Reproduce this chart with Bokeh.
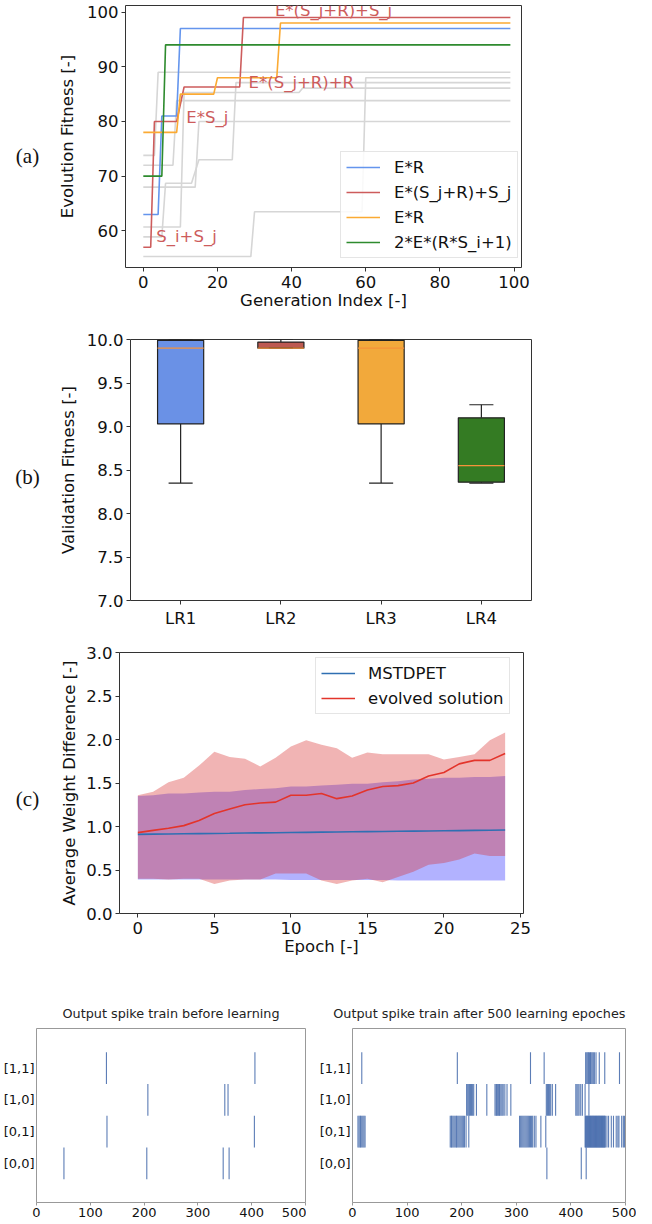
import numpy as np
from bokeh.plotting import figure
from bokeh.models import Range1d, FixedTicker, PrintfTickFormatter, Label, Legend, LegendItem
from bokeh.layouts import column, row
from bokeh.embed import file_html
from bokeh.resources import INLINE
from bokeh.core.properties import value

FONT = "DejaVu Sans"
FS = "16.5px"
SERIF = "Liberation Serif"

# ---------------- (a) evolution fitness ----------------
gen_blue = [0, 4, 5, 9, 10, 99]
fit_blue = [63, 63, 81, 81, 97, 97]
gen_red = [0, 2, 3, 9, 11, 26, 27, 99]
fit_red = [57, 57, 80, 80, 86.3, 86.3, 99, 99]
gen_orange = [0, 9, 10, 19, 20, 36, 37, 99]
fit_orange = [78, 78, 85, 85, 88, 88, 98, 98]
gen_green = [0, 5, 6, 99]
fit_green = [70, 70, 94, 94]

gray_gen_1 = [0, 3, 4, 99]
gray_fit_1 = [73.8, 73.8, 89, 89]
gray_gen_2 = [0, 8, 9, 99]
gray_fit_2 = [72, 72, 83.8, 83.8]
gray_gen_3 = [0, 14, 15, 99]
gray_fit_3 = [68, 68, 80, 80]
gray_gen_4 = [0, 29, 30, 59, 60, 99]
gray_fit_4 = [55.3, 55.3, 63.5, 63.5, 88, 88]
gray_gen_5 = [0, 10, 11, 42, 43, 99]
gray_fit_5 = [60.7, 60.7, 85.3, 85.3, 86.1, 86.1]
gray_gen_6 = [0, 5, 6, 13, 15, 24, 25, 99]
gray_fit_6 = [58.9, 58.9, 68.7, 68.7, 73, 73, 87.1, 87.1]

legend_a = ["E*R", "E*(S_j+R)+S_j", "E*R", "2*E*(R*S_i+1)"]
annot_text = ["E*(S_j+R)+S_j", "E*(S_j+R)+R", "E*S_j", "S_i+S_j"]
annot_gen = [35.5, 28.4, 11.6, 3.5]
annot_fit = [100.3, 87.1, 80.8, 58.9]

C_BLUE = "#6495ed"
C_RED = "#cd5c5c"
C_ORANGE = "#fbaa33"
C_GREEN = "#2e8b2e"
C_GRAY = "#d6d6d6"

# ---------------- (b) validation fitness ----------------
lr_labels = ["LR1", "LR2", "LR3", "LR4"]
lr_pos = [1, 2, 3, 4]
box_lo = [8.35, 9.90, 8.35, 8.35]
box_q1 = [9.03, 9.90, 9.03, 8.36]
box_med = [9.90, 9.90, 9.90, 8.55]
box_q3 = [9.99, 9.97, 9.99, 9.10]
box_hi = [10.0, 10.0, 10.0, 9.25]
box_colors = ["#6a91e6", "#bd5a52", "#f2a93b", "#347b23"]

# ---------------- (c) weight difference ----------------
epochs = [0, 1, 2, 3, 4, 5, 6, 7, 8, 9, 10, 11, 12, 13, 14, 15, 16, 17, 18, 19, 20, 21, 22, 23, 24]
mst_mean = [0.91, 0.912, 0.914, 0.916, 0.918, 0.92, 0.922, 0.925, 0.927, 0.929, 0.931, 0.933, 0.935,
            0.937, 0.939, 0.941, 0.943, 0.945, 0.947, 0.949, 0.951, 0.953, 0.955, 0.957, 0.96]
mst_hi = [1.35, 1.36, 1.38, 1.38, 1.39, 1.40, 1.40, 1.42, 1.43, 1.44, 1.46, 1.46, 1.47,
          1.48, 1.49, 1.49, 1.51, 1.52, 1.54, 1.55, 1.56, 1.56, 1.57, 1.57, 1.58]
mst_lo = [0.39, 0.39, 0.39, 0.39, 0.39, 0.39, 0.39, 0.39, 0.39, 0.39, 0.385, 0.385, 0.385,
          0.385, 0.385, 0.385, 0.385, 0.38, 0.38, 0.38, 0.38, 0.38, 0.38, 0.38, 0.38]
evo_mean = [0.93, 0.955, 0.98, 1.01, 1.07, 1.15, 1.20, 1.25, 1.27, 1.28, 1.36, 1.36, 1.38,
            1.32, 1.35, 1.42, 1.46, 1.47, 1.50, 1.58, 1.62, 1.72, 1.76, 1.76, 1.84]
evo_hi = [1.36, 1.40, 1.51, 1.56, 1.70, 1.86, 1.80, 1.78, 1.69, 1.79, 1.92, 1.99, 1.94,
          1.90, 1.79, 1.85, 1.83, 1.83, 1.83, 1.83, 1.77, 1.80, 1.83, 1.99, 2.08]
evo_lo = [0.40, 0.40, 0.39, 0.40, 0.40, 0.34, 0.38, 0.39, 0.39, 0.46, 0.46, 0.46, 0.38,
          0.34, 0.38, 0.40, 0.36, 0.42, 0.48, 0.56, 0.58, 0.62, 0.69, 0.66, 0.66]

# ---------------- (d) spike trains ----------------
row_labels = ["[0,0]", "[0,1]", "[1,0]", "[1,1]"]
before_00 = [51, 205, 347, 358]
before_01 = [131, 405]
before_10 = [207, 350, 356]
before_11 = [130, 406]

after_00 = [356, 419, 428]
after_01 = [10, 12, 14, 15, 17, 19, 21, 23,
            179, 181, 182, 184, 186, 188, 190, 191, 193, 195, 197, 199, 201, 203, 205, 208, 213,
            306, 308, 310, 312, 314, 316, 318, 320, 322, 324, 326, 328, 330, 333, 336, 345, 354,
            426, 427, 428, 429, 430, 431, 432, 433, 434, 435, 436, 437, 438, 439, 440, 441, 442,
            443, 444, 445, 446, 447, 448, 449, 450, 451, 452, 453, 454, 455, 456, 457, 458, 459,
            460, 461, 462, 463, 466, 469, 474, 478, 483, 486, 488, 493, 496, 498]
after_10 = [209, 211, 213, 214, 216, 218, 220, 222, 227, 246,
            261, 263, 264, 266, 267, 269, 270, 272, 274, 276, 279, 283, 290,
            355, 357, 359, 361, 363, 366, 372,
            409, 411, 413, 415, 418, 421, 426, 433]
after_11 = [17, 192, 326, 351, 427, 429, 431, 432, 434, 436, 437, 439, 441, 443, 446, 452, 462, 489]
SPIKE = "#4a6fae"

# panel letters: text and vertical centre (pixels from top of the upper block)
panel_letters = ["(a)", "(b)", "(c)"]
panel_letter_rows = [155, 476, 798]

LAB_W = 50
HA, HB, HC = 316, 316, 343
H_TOP = HA + HB + HC


def style(p, fs=FS, outline="#333333", tick_out=4):
    p.outline_line_color = outline
    p.outline_line_width = 1
    p.xgrid.visible = False
    p.ygrid.visible = False
    for ax in list(p.xaxis) + list(p.yaxis):
        ax.axis_line_color = None
        ax.major_tick_line_color = "#333333"
        ax.minor_tick_line_color = None
        ax.major_tick_out = tick_out
        ax.major_tick_in = 0
        ax.major_label_text_font = FONT
        ax.major_label_text_font_size = fs
        ax.major_label_text_color = "#111111"
        ax.axis_label_text_font = FONT
        ax.axis_label_text_font_size = fs
        ax.axis_label_text_font_style = "normal"
        ax.axis_label_text_color = "#111111"


# ---- letters column
pl = figure(width=LAB_W, height=H_TOP, x_range=Range1d(0, LAB_W), y_range=Range1d(-H_TOP, 0),
            min_border=0, x_axis_type=None, y_axis_type=None,
            output_backend="svg", toolbar_location=None)
pl.outline_line_color = None
pl.text(x=[27, 27, 27], y=[-v for v in panel_letter_rows], text=panel_letters, text_font=value(SERIF),
        text_font_size="21px", text_align="center", text_baseline="middle", text_color="#111111")

# ---- figure (a)
pa = figure(width=636 - LAB_W, height=HA, min_border_left=125 - LAB_W, min_border_right=115,
            min_border_top=5, min_border_bottom=HA - 267,
            x_range=Range1d(-4.8, 102.0), y_range=Range1d(53.3, 101.2),
            output_backend="svg", toolbar_location=None)
style(pa)
pa.xaxis.ticker = FixedTicker(ticks=[0, 20, 40, 60, 80, 100])
pa.yaxis.ticker = FixedTicker(ticks=[60, 70, 80, 90, 100])
pa.xaxis.axis_label = "Generation Index [-]"
pa.yaxis.axis_label = "Evolution Fitness [-]"
pa.xaxis.major_label_standoff = 4
pa.xaxis.axis_label_standoff = 0
pa.yaxis.major_label_standoff = 3
pa.yaxis.axis_label_standoff = 7

for gx, gy in [(gray_gen_1, gray_fit_1), (gray_gen_2, gray_fit_2), (gray_gen_3, gray_fit_3),
               (gray_gen_4, gray_fit_4), (gray_gen_5, gray_fit_5), (gray_gen_6, gray_fit_6)]:
    pa.line(gx, gy, line_color=C_GRAY, line_width=1.6)

r_b = pa.line(gen_blue, fit_blue, line_color=C_BLUE, line_width=1.6)
r_r = pa.line(gen_red, fit_red, line_color=C_RED, line_width=1.6)
r_o = pa.line(gen_orange, fit_orange, line_color=C_ORANGE, line_width=1.6)
r_g = pa.line(gen_green, fit_green, line_color=C_GREEN, line_width=1.6)

for t, gx, gy in zip(annot_text, annot_gen, annot_fit):
    pa.add_layout(Label(x=gx, y=gy, text=t, text_font=FONT, text_font_size=FS,
                        text_color=C_RED, text_align="left", text_baseline="alphabetic"))

leg_a = Legend(items=[LegendItem(label=legend_a[0], renderers=[r_b]),
                      LegendItem(label=legend_a[1], renderers=[r_r]),
                      LegendItem(label=legend_a[2], renderers=[r_o]),
                      LegendItem(label=legend_a[3], renderers=[r_g])],
               location=(215, 9), margin=0, padding=5, spacing=5,
               glyph_width=34, glyph_height=20, label_height=20, label_standoff=14,
               label_text_font=FONT, label_text_font_size=FS, label_text_color="#111111",
               border_line_color="#cccccc", background_fill_alpha=0.85)
pa.add_layout(leg_a)

# ---- figure (b)
pb = figure(width=636 - LAB_W, height=HB, min_border_left=130 - LAB_W, min_border_right=105,
            min_border_top=339 - 316, min_border_bottom=632 - 600,
            x_range=Range1d(0.5, 4.5), y_range=Range1d(7.0, 10.0),
            output_backend="svg", toolbar_location=None)
style(pb)
pb.xaxis.ticker = FixedTicker(ticks=lr_pos)
pb.xaxis.major_label_overrides = {p: l for p, l in zip(lr_pos, lr_labels)}
pb.yaxis.ticker = FixedTicker(ticks=[7.0, 7.5, 8.0, 8.5, 9.0, 9.5, 10.0])
pb.yaxis.formatter = PrintfTickFormatter(format="%.1f")
pb.yaxis.axis_label = "Validation Fitness [-]"
pb.xaxis.major_label_standoff = 4
pb.yaxis.major_label_standoff = 3
pb.yaxis.axis_label_standoff = 6

pos = np.array(lr_pos, dtype=float)
pb.segment(x0=pos, y0=box_q3, x1=pos, y1=box_hi, line_color="#222222", line_width=1.2)
pb.segment(x0=pos, y0=box_q1, x1=pos, y1=box_lo, line_color="#222222", line_width=1.2)
pb.vbar(x=pos, width=0.46, top=box_q3, bottom=box_q1, fill_color=box_colors,
        line_color="#222222", line_width=1.2)
pb.segment(x0=pos - 0.12, y0=box_hi, x1=pos + 0.12, y1=box_hi, line_color="#222222", line_width=1.2)
pb.segment(x0=pos - 0.12, y0=box_lo, x1=pos + 0.12, y1=box_lo, line_color="#222222", line_width=1.2)
pb.segment(x0=pos - 0.23, y0=box_med, x1=pos + 0.23, y1=box_med, line_color="#f5923a", line_width=1.3)

# ---- figure (c)
pc = figure(width=636 - LAB_W, height=HC, min_border_left=119 - LAB_W, min_border_right=113,
            min_border_top=652 - 632, min_border_bottom=975 - 913,
            x_range=Range1d(-1.2, 25.2), y_range=Range1d(0.0, 3.0),
            output_backend="svg", toolbar_location=None)
style(pc)
pc.xaxis.ticker = FixedTicker(ticks=[0, 5, 10, 15, 20, 25])
pc.yaxis.ticker = FixedTicker(ticks=[0.0, 0.5, 1.0, 1.5, 2.0, 2.5, 3.0])
pc.yaxis.formatter = PrintfTickFormatter(format="%.1f")
pc.xaxis.axis_label = "Epoch [-]"
pc.yaxis.axis_label = "Average Weight Difference [-]"
pc.xaxis.major_label_standoff = 4
pc.xaxis.axis_label_standoff = 0
pc.yaxis.major_label_standoff = 3
pc.yaxis.axis_label_standoff = 4

pc.varea(x=epochs, y1=mst_lo, y2=mst_hi, fill_color="#0000ff", fill_alpha=0.3)
pc.varea(x=epochs, y1=evo_lo, y2=evo_hi, fill_color="#d62728", fill_alpha=0.35)
r_m = pc.line(epochs, mst_mean, line_color="#2f6fb2", line_width=1.6)
r_e = pc.line(epochs, evo_mean, line_color="#e3342b", line_width=1.6)
leg_c = Legend(items=[LegendItem(label="MSTDPET", renderers=[r_m]),
                      LegendItem(label="evolved solution", renderers=[r_e])],
               location=(196, 199), margin=0, padding=5, spacing=5,
               glyph_width=34, glyph_height=20, label_height=20, label_standoff=13,
               label_text_font=FONT, label_text_font_size=FS, label_text_color="#111111",
               border_line_color="#cccccc", background_fill_alpha=0.85)
pc.add_layout(leg_c)


# ---- spike train figures (rows 975..1222)
def spike_fig(title, width, left, right, trains, align):
    p = figure(width=width, height=247, min_border_left=left, min_border_right=right,
               min_border_top=53, min_border_bottom=20,
               x_range=Range1d(0, 500), y_range=Range1d(-1.23, 4.25),
               title=title, output_backend="svg", toolbar_location=None)
    style(p, fs="13px", outline="#999999", tick_out=3)
    p.title.text_font = FONT
    p.title.text_font_size = "12.8px"
    p.title.text_font_style = "normal"
    p.title.text_color = "#222222"
    p.title.align = align
    p.title.standoff = 15
    p.xaxis.ticker = FixedTicker(ticks=[0, 100, 200, 300, 400, 500])
    p.yaxis.ticker = FixedTicker(ticks=[0, 1, 2, 3])
    p.yaxis.major_label_overrides = {i: l for i, l in enumerate(row_labels)}
    p.yaxis.major_tick_out = 0
    p.yaxis.major_label_standoff = 2
    p.xaxis.major_label_standoff = 2
    p.xaxis.major_tick_line_color = "#999999"
    for r, times in enumerate(trains):
        t = np.asarray(times, dtype=float)
        p.segment(x0=t, y0=r - 0.5, x1=t, y1=r + 0.5, line_color=SPIKE, line_width=1.1, line_alpha=0.9)
    return p


pd1 = spike_fig("Output spike train before learning", 306, 33, 1,
                [before_00, before_01, before_10, before_11], "center")
pd2 = spike_fig("Output spike train after 500 learning epoches", 330, 46, 11,
                [after_00, after_01, after_10, after_11], "right")

# each panel wrapped in its own row so that Bokeh does not align their borders
layout = column(
    row(pl, column(row(pa), row(pb), row(pc), spacing=0), spacing=0),
    row(pd1, pd2, spacing=0),
    spacing=0)
open("out.html", "w").write(file_html(layout, INLINE))
